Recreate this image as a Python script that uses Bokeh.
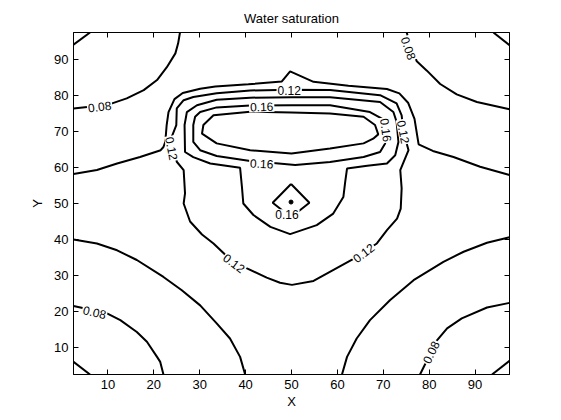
from bokeh.plotting import figure
from bokeh.models import Range1d, LinearAxis, ColumnDataSource, FixedTicker
from bokeh.core.properties import value
from bokeh.embed import file_html
from bokeh.resources import INLINE
import math

# ---------------- data ----------------
title_text = "Water saturation"
x_label = "X"
y_label = "Y"
axis_min, axis_max = 2.5, 97.5
tick_values = [10, 20, 30, 40, 50, 60, 70, 80, 90]

# contour polylines (data coordinates)
c06_ul_x = [2.5, 6.1]
c06_ul_y = [94.1, 97.5]
c06_ur_x = [94.0, 97.5]
c06_ur_y = [97.5, 94.0]
c06_ll_x = [2.5, 6.1]
c06_ll_y = [6.0, 2.5]
c06_lr_x = [93.7, 97.5]
c06_lr_y = [2.5, 6.3]

c08_ul_x = [2.5, 7.0, 10.9, 14.1, 17.8, 20.7, 22.8, 24.7, 25.3, 25.7]
c08_ul_y = [76.4, 77.0, 77.8, 79.2, 81.5, 84.3, 87.8, 91.7, 94.5, 97.5]
c08_ur_x = [75.1, 75.8, 77.3, 79.5, 82.4, 86.0, 90.4, 97.5]
c08_ur_y = [97.5, 94.5, 89.5, 86.9, 83.2, 80.3, 78.2, 76.2]
c08_ll_x = [2.5, 9.8, 12.7, 16.3, 18.5, 20.7, 21.4, 22.1]
c08_ll_y = [21.5, 19.5, 17.6, 14.3, 11.6, 7.4, 6.0, 2.5]
c08_lr_x = [78.0, 81.7, 83.9, 87.1, 92.6, 97.5]
c08_lr_y = [2.5, 12.0, 15.3, 18.1, 21.1, 22.4]

c10_top_x = [2.5, 7.6, 12.0, 17.0, 21.5, 22.1, 22.5, 22.8, 23.2, 24.5, 26.3, 30.1, 33.4,
             40.6, 47.9, 49.7, 54.8, 62.4, 70.8, 73.5, 75.4, 76.8, 77.7, 80.8, 85.3, 91.1, 97.5]
c10_top_y = [58.2, 59.3, 61.1, 62.9, 64.8, 65.7, 67.1, 71.8, 75.4, 79.0, 80.7, 81.9, 82.5,
             83.1, 83.9, 86.7, 83.8, 82.7, 81.8, 80.6, 78.0, 73.5, 66.4, 64.6, 62.9, 60.2, 57.9]
c10_ll_x = [2.5, 7.6, 12.0, 16.3, 22.1, 26.1, 30.1, 33.7, 36.6, 38.8, 39.9]
c10_ll_y = [40.0, 38.9, 37.0, 34.3, 29.6, 25.9, 21.7, 16.7, 12.5, 7.4, 2.5]
c10_lr_x = [61.0, 62.1, 64.2, 67.1, 71.5, 76.6, 83.1, 87.5, 92.6, 97.5]
c10_lr_y = [2.5, 7.4, 12.5, 17.6, 23.2, 28.7, 33.8, 36.6, 39.1, 40.6]

c12_x = [49.5, 41.0, 33.7, 28.6, 26.5, 25.0, 24.9, 23.9, 25.0, 26.5, 26.8, 26.5, 27.9, 30.5,
         33.0, 35.7, 40.3, 44.6, 47.5, 50.1, 54.8, 63.5, 68.6, 70.8, 73.0, 73.8, 74.0, 73.7,
         75.5, 74.4, 74.0, 72.9, 69.3, 58.4, 49.5]
c12_y = [81.6, 81.4, 80.6, 79.6, 78.7, 76.4, 71.8, 68.5, 61.6, 59.3, 52.8, 50.0, 45.0, 41.4,
         38.9, 35.6, 32.0, 29.4, 28.0, 27.4, 28.5, 34.6, 38.9, 42.6, 45.8, 48.6, 54.2, 59.3,
         64.8, 69.9, 74.5, 77.8, 80.1, 81.5, 81.6]

c14_x = [50.0, 41.0, 33.7, 29.4, 27.2, 26.7, 26.8, 28.6, 32.3, 38.8, 39.2, 39.5, 41.7, 45.4,
         49.7, 55.5, 59.1, 61.3, 61.7, 62.1, 66.5, 70.8, 72.6, 73.3, 72.9, 72.2, 69.3, 58.4, 50.0]
c14_y = [79.5, 79.4, 78.8, 77.3, 75.4, 71.8, 64.3, 62.9, 61.1, 59.9, 54.6, 50.0, 46.8, 43.5,
         41.5, 44.0, 47.2, 51.8, 56.0, 59.7, 60.5, 61.1, 63.4, 67.1, 72.7, 75.4, 78.2, 79.5, 79.5]

c16_x = [50.0, 41.0, 33.7, 30.1, 29.0, 28.6, 28.6, 30.1, 33.7, 41.0, 50.8, 58.4, 65.7, 69.3,
         70.4, 70.6, 69.7, 67.1, 58.4, 50.0]
c16_y = [77.3, 77.2, 76.7, 75.4, 74.1, 71.8, 67.1, 64.8, 63.2, 61.8, 60.7, 61.5, 62.9, 64.3,
         66.7, 70.4, 73.6, 75.4, 77.3, 77.3]
c16_diamond_x = [49.9, 53.9, 49.9, 45.9, 49.9]
c16_diamond_y = [55.4, 50.2, 46.2, 50.2, 55.4]

c18_x = [50.0, 41.0, 33.0, 30.8, 30.5, 33.7, 41.0, 50.0, 58.4, 65.7, 67.8, 68.9, 68.2, 65.7, 58.4, 50.0]
c18_y = [75.3, 75.5, 74.5, 71.8, 69.4, 66.7, 64.8, 63.9, 65.3, 66.7, 68.0, 69.2, 71.8, 74.1, 75.0, 75.3]

# well marker
well_x = [49.9]
well_y = [50.4]

# contour labels
label_text = ["0.08", "0.12", "0.12", "0.16", "0.16", "0.16", "0.16", "0.12",
              "0.08", "0.12", "0.12", "0.08", "0.08"]
label_x = [8.2, 23.9, 49.5, 43.5, 43.5, 49.0, 70.6, 74.4, 75.5, 37.5, 65.7, 7.1, 80.4]
label_y = [76.9, 65.3, 81.4, 76.9, 61.1, 46.9, 70.4, 69.9, 93.1, 33.4, 36.3, 19.8, 8.7]
label_angle_deg = [7, -79, 0, 2, -3, 0, -82, -79, -71, -37, 37, -13, 64]

# ---------------- figure ----------------
FONT = "Liberation Sans"

p = figure(width=553, height=412,
           x_range=Range1d(axis_min, axis_max), y_range=Range1d(axis_min, axis_max),
           output_backend="svg", toolbar_location=None,
           min_border_left=73, min_border_right=44, min_border_top=32, min_border_bottom=38,
           title=title_text)
p.background_fill_color = "white"
p.border_fill_color = "white"
p.outline_line_color = "black"
p.outline_line_width = 1
p.xgrid.visible = False
p.ygrid.visible = False

p.title.align = "center"
p.title.text_font = FONT
p.title.text_font_size = "13px"
p.title.text_font_style = "normal"
p.title.text_color = "black"
p.title.standoff = 13

for ax in (p.xaxis[0], p.yaxis[0]):
    ax.ticker = FixedTicker(ticks=tick_values)
    ax.major_tick_in = 5
    ax.major_tick_out = 0
    ax.minor_tick_in = 0
    ax.minor_tick_out = 0
    ax.axis_line_color = "black"
    ax.major_tick_line_color = "black"
    ax.major_label_text_color = "black"
    ax.major_label_text_font = FONT
    ax.major_label_text_font_size = "13px"
    ax.axis_label_text_font = FONT
    ax.axis_label_text_font_size = "13px"
    ax.axis_label_text_font_style = "normal"
    ax.axis_label_text_color = "black"
    ax.major_label_standoff = 5

p.xaxis.axis_label = x_label
p.yaxis.axis_label = y_label
p.xaxis.axis_label_standoff = 2
p.yaxis.axis_label_standoff = 6

for loc in ("above", "right"):
    ax = LinearAxis(ticker=FixedTicker(ticks=tick_values),
                    major_tick_in=5, major_tick_out=0, minor_tick_in=0, minor_tick_out=0,
                    major_label_text_font_size="1px", major_label_text_color=None,
                    major_label_standoff=0,
                    axis_line_color="black", major_tick_line_color="black")
    p.add_layout(ax, loc)

xs = [c06_ul_x, c06_ur_x, c06_ll_x, c06_lr_x, c08_ul_x, c08_ur_x, c08_ll_x, c08_lr_x,
      c10_top_x, c10_ll_x, c10_lr_x, c12_x, c14_x, c16_x, c16_diamond_x, c18_x]
ys = [c06_ul_y, c06_ur_y, c06_ll_y, c06_lr_y, c08_ul_y, c08_ur_y, c08_ll_y, c08_lr_y,
      c10_top_y, c10_ll_y, c10_lr_y, c12_y, c14_y, c16_y, c16_diamond_y, c18_y]
lines = ColumnDataSource(data=dict(xs=xs, ys=ys))
p.multi_line(xs="xs", ys="ys", source=lines, line_color="black", line_width=2)

p.scatter(x=well_x, y=well_y, size=4, color="black")

labels = ColumnDataSource(data=dict(
    x=label_x, y=label_y, text=label_text,
    angle=[math.radians(a) for a in label_angle_deg]))
p.text(x="x", y="y", text="text", angle="angle", source=labels,
       text_font=value(FONT), text_font_size="12px", text_color="black",
       text_align="center", text_baseline="middle",
       background_fill_color="white", padding=1)

open("out.html", "w").write(file_html(p, INLINE))
